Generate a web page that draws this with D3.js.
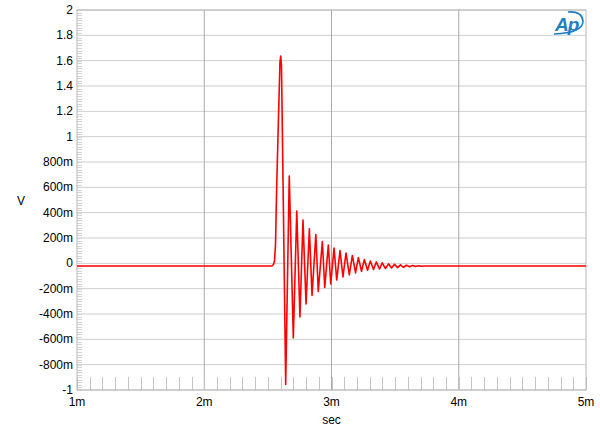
<!DOCTYPE html>
<html><head><meta charset="utf-8">
<script src="https://cdn.jsdelivr.net/npm/d3@7/dist/d3.min.js"></script>
<style>body{margin:0;background:#fff}svg{display:block}text{font-family:"Liberation Sans",Arial,sans-serif}</style>
</head><body>
<svg id="c" width="600" height="435"></svg>
<script>
// time in ms, voltage in V
const timeMs = [1.000, 2.532, 2.544, 2.552, 2.560, 2.569, 2.584, 2.595, 2.601, 2.607, 2.619, 2.640,
  2.668, 2.700, 2.727, 2.752, 2.776, 2.800, 2.826, 2.847, 2.877, 2.896, 2.928, 2.947, 2.975, 2.994,
  3.020, 3.041, 3.067, 3.090, 3.114, 3.140, 3.164, 3.189, 3.211, 3.236, 3.258, 3.283, 3.305, 3.330,
  3.352, 3.377, 3.399, 3.424, 3.448, 3.472, 3.495, 3.519, 3.542, 3.566, 3.589, 3.613, 3.637, 3.660,
  3.684, 3.707, 3.735, 5.000];
const volts = [-0.021, -0.021, -0.009, 0.018, 0.145, 0.595, 1.171, 1.590, 1.637, 1.558, 0.658, -0.957,
  0.689, -0.590, 0.413, -0.424, 0.342, -0.321, 0.273, -0.254, 0.228, -0.222, 0.172, -0.191, 0.145, -0.163,
  0.121, -0.132, 0.101, -0.108, 0.082, -0.092, 0.062, -0.076, 0.046, -0.064, 0.030, -0.055, 0.018, -0.049,
  0.011, -0.045, 0.003, -0.041, -0.004, -0.037, -0.008, -0.034, -0.012, -0.031, -0.015, -0.027, -0.017, -0.025,
  -0.019, -0.023, -0.021, -0.021];
const xTicks = [1, 2, 3, 4, 5];
const xTickLabels = ["1m", "2m", "3m", "4m", "5m"];
const yTicks = [-1, -0.8, -0.6, -0.4, -0.2, 0, 0.2, 0.4, 0.6, 0.8, 1, 1.2, 1.4, 1.6, 1.8, 2];
const yTickLabels = ["-1", "-800m", "-600m", "-400m", "-200m", "0", "200m", "400m", "600m", "800m", "1", "1.2", "1.4", "1.6", "1.8", "2"];
const xLabel = "sec", yLabel = "V";

const L = 77, R = 586, T = 10, B = 390;
const svg = d3.select("#c");
const x = d3.scaleLinear().domain([1, 5]).range([L, R]);
const y = d3.scaleLinear().domain([-1, 2]).range([B, T]);

// horizontal grid
svg.append("g").selectAll("line").data(yTicks).join("line")
  .attr("x1", L).attr("x2", R).attr("y1", d => y(d)).attr("y2", d => y(d))
  .attr("stroke", "#cfcfcf").attr("stroke-width", 1);
// vertical grid
svg.append("g").selectAll("line").data(xTicks.slice(1, -1)).join("line")
  .attr("y1", T).attr("y2", B).attr("x1", d => x(d)).attr("x2", d => x(d))
  .attr("stroke", "#a8a8a8").attr("stroke-width", 1);
// minor ticks on left
const yMinor = d3.range(-1, 2.0001, 0.02);
svg.append("g").selectAll("line").data(yMinor).join("line")
  .attr("x1", L).attr("x2", L + 5).attr("y1", d => Math.round(y(d)) + 0.5).attr("y2", d => Math.round(y(d)) + 0.5)
  .attr("stroke", "#d4d4d4").attr("stroke-width", 1);
// minor ticks on bottom
const xMinor = d3.range(1, 5.0001, 0.1);
svg.append("g").selectAll("line").data(xMinor).join("line")
  .attr("y1", B - 13).attr("y2", B).attr("x1", d => Math.round(x(d)) + 0.5).attr("x2", d => Math.round(x(d)) + 0.5)
  .attr("stroke", "#c4c4c4").attr("stroke-width", 1);
// border
svg.append("rect").attr("x", L).attr("y", T).attr("width", R - L).attr("height", B - T)
  .attr("fill", "none").attr("stroke", "#b8b8b8").attr("stroke-width", 1);

// trace
const pts = timeMs.map((t, i) => [t, volts[i]]);
svg.append("path").datum(pts)
  .attr("d", d3.line().x(d => x(d[0])).y(d => y(d[1])).curve(d3.curveLinear))
  .attr("fill", "none").attr("stroke", "#ff0000").attr("stroke-width", 1.6).attr("stroke-linejoin", "round");

// y labels
svg.append("g").selectAll("text").data(yTicks).join("text")
  .attr("x", 73).attr("y", d => y(d) + 4).attr("text-anchor", "end")
  .attr("font-size", 12).attr("fill", "#000").text((d, i) => yTickLabels[i]);
// x labels
svg.append("g").selectAll("text").data(xTicks).join("text")
  .attr("x", d => x(d)).attr("y", 406).attr("text-anchor", "middle")
  .attr("font-size", 12).attr("fill", "#000").text((d, i) => xTickLabels[i]);
svg.append("text").attr("x", (L + R) / 2).attr("y", 424).attr("text-anchor", "middle")
  .attr("font-size", 12).text(xLabel);
svg.append("text").attr("x", 21).attr("y", 205).attr("text-anchor", "middle")
  .attr("font-size", 12).text(yLabel);

// logo
const lg = svg.append("g").attr("fill", "#1f7fc4");
lg.append("text").attr("x", 555).attr("y", 31).attr("font-size", 19).attr("font-style", "italic")
  .attr("font-weight", "bold").attr("letter-spacing", -1).text("Ap");
lg.append("path").attr("d", "M554,34 Q583,33 583,21 Q582,11 568,12")
  .attr("fill", "none").attr("stroke", "#1f7fc4").attr("stroke-width", 1.6);
</script>
</body></html>
